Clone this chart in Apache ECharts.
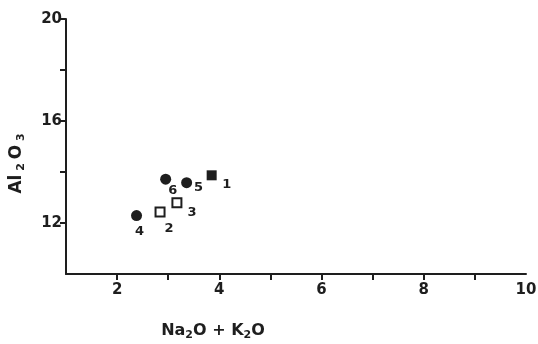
<!DOCTYPE html>
<html><head><meta charset="utf-8">
<script src="https://cdn.jsdelivr.net/npm/echarts@6/dist/echarts.min.js"></script>
<style>html,body{margin:0;padding:0;background:#fff}#c{width:538px;height:344px}</style>
</head><body><div id="c"></div>
<script>
// Sample numbers
var filledSquareIds = ['1'];
var filledSquareX = [3.85];
var filledSquareY = [13.87];

var openSquareIds = ['2', '3'];
var openSquareX = [2.84, 3.17];
var openSquareY = [12.43, 12.79];

var circleIds = ['4', '5', '6'];
var circleX = [2.38, 3.36, 2.95];
var circleY = [12.29, 13.58, 13.72];

var xTicks = [2, 4, 6, 8, 10];
var yTicks = [12, 16, 20];
var xTickMarks = [2, 3, 4, 5, 6, 7, 8, 9];
var yTickMarks = [12, 14, 16, 18, 20];

// label offsets (style only)
var labelOffsets = {'1': [15, 9], '2': [9, 17], '3': [15, 10], '4': [3, 16], '5': [12, 5], '6': [7, 11]};

var ink = '#1e1e1e';
var font = 'DejaVu Sans';

function pts(ids, xs, ys) {
  return ids.map(function (id, i) {
    return {
      value: [xs[i], ys[i]], name: id,
      label: { show: true, position: 'inside', offset: labelOffsets[id], formatter: id,
        color: ink, fontSize: 13, fontWeight: 'bold', fontFamily: font }
    };
  });
}

var chart = echarts.init(document.getElementById('c'));
chart.setOption({
  backgroundColor: '#fff',
  animation: false,
  grid: { left: 66, right: 12, top: 19, bottom: 70, containLabel: false, outerBoundsMode: 'none' },
  xAxis: {
    type: 'value', min: 1, max: 10, interval: 1,
    name: '{a|Na}{s|2}{a|O + K}{s|2}{a|O}', nameLocation: 'middle', nameGap: 46,
    nameTextStyle: { rich: {
      a: { fontSize: 16, fontWeight: 'bold', color: ink, fontFamily: font },
      s: { fontSize: 11, fontWeight: 'bold', color: ink, fontFamily: font, padding: [10, 0, 0, 0] }
    }, padding: [0, 166, 0, 0] },
    axisLine: { lineStyle: { color: ink, width: 2 } },
    axisTick: { show: true, inside: false, length: 6, customValues: xTickMarks, lineStyle: { color: ink, width: 2 } },
    axisLabel: { color: ink, fontSize: 15, fontWeight: 'bold', fontFamily: font, margin: 9,
      formatter: function (v) { return xTicks.indexOf(v) >= 0 ? String(v) : ''; } },
    splitLine: { show: false }
  },
  yAxis: {
    type: 'value', min: 10, max: 20, interval: 2,
    name: '{a|Al}{s| 2 }{a|O}{s| 3}', nameLocation: 'middle', nameGap: 39, nameRotate: 90,
    nameTextStyle: { rich: {
      a: { fontSize: 17, fontWeight: 'bold', color: ink, fontFamily: font },
      s: { fontSize: 11, fontWeight: 'bold', color: ink, fontFamily: font, padding: [10, 0, 0, 0] }
    }, padding: [0, 34, 0, 0] },
    axisLine: { show: true, lineStyle: { color: ink, width: 2 } },
    axisTick: { show: true, inside: false, length: 6, customValues: yTickMarks, lineStyle: { color: ink, width: 2 } },
    axisLabel: { color: ink, fontSize: 15, fontWeight: 'bold', fontFamily: font, margin: 4,
      formatter: function (v) { return yTicks.indexOf(v) >= 0 ? String(v) : ''; } },
    splitLine: { show: false }
  },
  series: [
    { type: 'scatter', symbol: 'rect', symbolSize: 10, itemStyle: { color: ink, opacity: 1 },
      data: pts(filledSquareIds, filledSquareX, filledSquareY) },
    { type: 'scatter', symbol: 'rect', symbolSize: 9, itemStyle: { color: '#fff', borderColor: ink, borderWidth: 2, opacity: 1 },
      data: pts(openSquareIds, openSquareX, openSquareY) },
    { type: 'scatter', symbol: 'circle', symbolSize: 11, itemStyle: { color: ink, opacity: 1 },
      data: pts(circleIds, circleX, circleY) }
  ]
});
</script></body></html>
